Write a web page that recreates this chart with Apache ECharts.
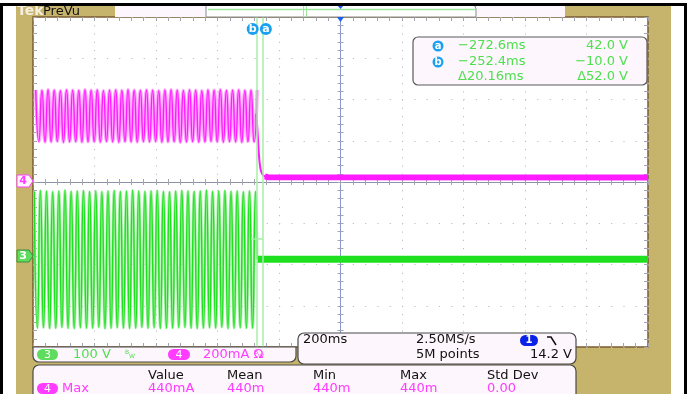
<!DOCTYPE html>
<html><head><meta charset="utf-8">
<script src="https://cdn.jsdelivr.net/npm/echarts@6/dist/echarts.min.js"></script>
<style>html,body{margin:0;padding:0;background:#fff;}#c{width:693px;height:394px;}</style>
</head><body><div id="c"></div>
<script>
// ---- scope settings / data ----
const timeMin = -1000, timeMax = 1000, timeDiv = 200;   // ms, 200 ms/div
const ch3Scale = 100;   // V/div
const ch4Scale = 200;   // mA/div
const ch3Pos = -1.8;    // div
const ch4Pos = 0;       // div
const wavePeriod = 20;  // ms (50 Hz mains)
const waveStart = -996; // ms, first visible peak
const ch3Peaks = [157,159,158,156,158,160,157,158,159,157,158,156,158,159,157,158,160,158,157,158,159,157,156,158,159,158,157,158,160,157,158,159,157,158,156,158,157];
const ch3Troughs = [-174,-173,-175,-174,-172,-174,-175,-173,-174,-174,-172,-175,-174,-173,-174,-175,-174,-172,-174,-173,-175,-174,-174,-173,-172,-174,-175,-174,-173,-174,-172,-175,-174,-173,-174,-174];
const ch3After = [[-271,-7],[1000,-7]];
const ch4Peaks = [446,444,447,445,443,446,445,444,447,445,446,443,445,446,444,447,445,444,446,445,443,446,447,445,444,446,445,443,446,445,447,444,445,446,444,445,446];
const ch4Troughs = [196,194,195,197,193,195,196,194,195,196,194,197,195,193,196,195,194,196,195,197,194,195,196,193,195,196,194,195,197,195,194,196,195,193,196,195];
const ch4Drop = [[-274,330],[-270,250],[-267,170],[-264,110],[-260,62],[-254,38],[-246,27],[-236,23],[1000,22]];
const cursorTimes = [-272.6, -252.4];   // ms
const cursorVolts = [42.0, -10.0];      // V
const readTimes = ['\u2212272.6ms', '\u2212252.4ms', '\u039420.16ms'];
const readVolts = ['42.0 V', '\u221210.0 V', '\u039452.0 V'];
const measHeads = ['Value', 'Mean', 'Min', 'Max', 'Std Dev'];
const measVals = ['440mA', '440m', '440m', '440m', '0.00'];

// ---- build series ----
const ch3 = v => ch3Pos + v / ch3Scale;
const ch4 = v => ch4Pos + v / ch4Scale;
const greenOsc = [];
ch3Peaks.forEach((p, i) => {
  greenOsc.push([waveStart + i * wavePeriod, ch3(p)]);
  if (i < ch3Troughs.length) greenOsc.push([waveStart + i * wavePeriod + wavePeriod / 2, ch3(ch3Troughs[i])]);
});
greenOsc.push([ch3After[0][0], ch3(ch3After[0][1])]);
const greenFlat = ch3After.map(d => [d[0], ch3(d[1])]);
const magOsc = [];
ch4Peaks.forEach((p, i) => {
  magOsc.push([waveStart + 5 + i * wavePeriod, ch4(p)]);
  if (i < ch4Troughs.length) magOsc.push([waveStart + 5 + i * wavePeriod + wavePeriod / 2, ch4(ch4Troughs[i])]);
});
const magDrop = ch4Drop.map(d => [d[0], ch4(d[1])]);
const magFlat = ch4Drop.slice(-3).map(d => [d[0], ch4(d[1])]);

const TAN = '#c6b46c', PALE = '#fdf6fc', GRN = '#4fe04f', MAG = '#ff3cff', FONT = '"DejaVu Sans", sans-serif';
function rect(x, y, w, h, fill, stroke, r, z, lw) {
  return {type: 'rect', z: z, shape: {x: x, y: y, width: w, height: h, r: r || 0},
    style: {fill: fill, stroke: stroke || null, lineWidth: lw || 1}, silent: true};
}
function txt(x, y, s, color, size, align, weight, z) {
  return {type: 'text', z: z || 40, x: x, y: y, silent: true,
    style: {text: s, fill: color, font: (weight || 'normal') + ' ' + size + 'px ' + FONT,
      textAlign: align || 'left', textVerticalAlign: 'middle', align: align || 'left', verticalAlign: 'middle'}};
}
function line(x1, y1, x2, y2, color, w, z) {
  return {type: 'line', z: z || 15, silent: true, shape: {x1: x1, y1: y1, x2: x2, y2: y2}, style: {stroke: color, lineWidth: w || 1}};
}
function poly(pts, fill, stroke, z) {
  return {type: 'polygon', z: z || 15, silent: true, shape: {points: pts}, style: {fill: fill, stroke: stroke, lineWidth: 1}};
}
function circ(cx, cy, r, fill, z) {
  return {type: 'circle', z: z || 35, silent: true, shape: {cx: cx, cy: cy, r: r}, style: {fill: fill}};
}

const graphics = [
  rect(0, 0, 693, 394, '#fff', null, 0, -20),
  rect(16, 6, 655, 388, TAN, null, 0, -19),
  rect(33, 17, 615, 330, '#fff', null, 0, -18),
  rect(0, 3, 687, 3, '#000', null, 0, 50),
  rect(0, 3, 3, 391, '#000', null, 0, 50),
  rect(684, 3, 3, 391, '#000', null, 0, 50),
  // top band
  rect(115, 6, 91, 11, PALE, null, 0, 5),
  rect(476, 6, 89, 11, PALE, null, 0, 5),
  rect(206, 5, 270, 12, '#fff', '#8a8a8a', [0, 4, 0, 0], 6),
  line(208, 9.5, 475, 9.5, '#9ee89e', 1.5, 7),
  line(303.5, 6, 303.5, 17, '#9ee89e', 1, 7),
  line(306.5, 6, 306.5, 17, '#9ee89e', 1, 7),
  poly([[337, 5], [344, 5], [340.5, 9]], '#1a5ff0', null, 8),
  poly([[337, 17], [344, 17], [340.5, 22]], '#1a5ff0', null, 25),
  txt(17, 11.5, 'Tek', '#f4efe0', 14, 'left', 'bold'),
  txt(43, 11.5, 'PreVu', '#111', 13),
  // channel markers
  poly([[17, 175], [29, 175], [33, 181], [29, 187], [17, 187]], '#fff4ff', '#ff40ff', 25),
  txt(23, 181.5, '4', MAG, 11, 'center', 'bold'),
  poly([[17, 250], [29, 250], [33, 256], [29, 262], [17, 262]], '#5ddc5d', '#3f8f3f', 25),
  txt(23, 256.5, '3', '#fff', 11, 'center', 'bold'),
  // cursor readout box
  rect(413, 37, 234, 48, PALE, '#5a5a5a', 5, 24, 1.2),
  circ(438, 46, 5.5, '#1aa0f0'), txt(438, 46.5, 'a', '#fff', 10, 'center', 'bold'),
  circ(438, 62, 5.5, '#1aa0f0'), txt(438, 62.5, 'b', '#fff', 10, 'center', 'bold'),
  // channel settings box
  rect(33, 347, 263, 15, PALE, '#4a4a4a', [0, 0, 6, 6], 24, 1.2),
  rect(37, 349, 21, 11, '#5ddc5d', null, 5.5, 30), txt(47.5, 355, '3', '#fff', 11, 'center'),
  txt(73, 355, '100 V', GRN, 13),
  txt(125, 352.5, 'B', GRN, 6), txt(129, 356, 'W', GRN, 6),
  rect(168, 349, 22, 11, MAG, null, 5.5, 30), txt(179, 355, '4', '#fff', 11, 'center'),
  txt(203, 355, '200mA \u03a9', MAG, 13),
  txt(254, 352.5, 'B', MAG, 6), txt(258, 356, 'W', MAG, 6),
  // horizontal / acquisition box
  rect(298, 333, 278, 31, PALE, '#4a4a4a', 6, 24, 1.2),
  txt(303, 340, '200ms', '#111', 13),
  txt(416, 340, '2.50MS/s', '#111', 13),
  txt(416, 355, '5M points', '#111', 13),
  rect(520, 335, 18, 11, '#0a22e8', null, 5.5, 30), txt(529, 340.5, '1', '#fff', 10, 'center', 'bold'),
  {type: 'polyline', z: 40, silent: true, shape: {points: [[547, 337], [551, 337], [556, 345]]}, style: {stroke: '#111', lineWidth: 1.5, fill: null}},
  txt(572, 355, '14.2 V', '#111', 13, 'right'),
  // measurement box
  rect(33, 365, 543, 40, PALE, '#4a4a4a', 6, 24, 1.2),
  rect(37, 383, 21, 11, MAG, null, 5.5, 30), txt(47.5, 389, '4', '#fff', 11, 'center'),
  txt(62, 389, 'Max', MAG, 13)
];
readTimes.forEach((s, i) => { graphics.push(txt(458, 46 + i * 15.5, s, GRN, 13)); });
readVolts.forEach((s, i) => { graphics.push(txt(628, 46 + i * 15.5, s, GRN, 13, 'right')); });
const measX = [148, 227, 313, 400, 487];
measHeads.forEach((s, i) => { graphics.push(txt(measX[i], 376, s, '#111', 13)); });
measVals.forEach((s, i) => { graphics.push(txt(measX[i], 389, s, MAG, 13)); });

const gridCol = '#bcbcc4';
const tickCol = '#a4a4ae';
function xA(extra) {
  return Object.assign({type: 'value', min: timeMin, max: timeMax, interval: timeDiv, axisLabel: {show: false},
    splitLine: {show: false}, minorSplitLine: {show: false}}, extra);
}
function yA(extra) {
  return Object.assign({type: 'value', min: -4, max: 4, interval: 1, axisLabel: {show: false},
    splitLine: {show: false}, minorSplitLine: {show: false}}, extra);
}
const option = {
  animation: false,
  backgroundColor: 'transparent',
  grid: {left: 33, top: 17, width: 615, height: 330, show: true, backgroundColor: 'transparent', borderColor: '#7a5c33', borderWidth: 1.5},
  xAxis: [
    xA({position: 'bottom', axisLine: {show: false}, axisTick: {show: false},
       splitLine: {show: true, lineStyle: {color: gridCol, width: 1, type: [1.2, 7.05]}}}),
    xA({position: 'top', axisLine: {show: false, onZero: false}, axisTick: {show: true, inside: true, length: 4, lineStyle: {color: tickCol}},
       minorTick: {show: true, splitNumber: 5, length: 4, lineStyle: {color: tickCol}}}),
    xA({position: 'bottom', axisLine: {show: false, onZero: false}, axisTick: {show: true, inside: true, length: 4, lineStyle: {color: tickCol}},
       minorTick: {show: true, splitNumber: 5, length: 4, lineStyle: {color: tickCol}}}),
    xA({position: 'bottom', offset: -165, axisLine: {show: true, onZero: false, lineStyle: {color: '#8a92a8', width: 1}},
       axisTick: {show: true, inside: true, length: 3, lineStyle: {color: tickCol}},
       minorTick: {show: true, splitNumber: 5, length: 3, lineStyle: {color: tickCol}}}),
    xA({position: 'bottom', offset: -165, axisLine: {show: false, onZero: false},
       axisTick: {show: true, inside: false, length: 3, lineStyle: {color: tickCol}},
       minorTick: {show: true, splitNumber: 5, length: 3, lineStyle: {color: tickCol}}})
  ],
  yAxis: [
    yA({position: 'left', axisLine: {show: false}, axisTick: {show: false},
       splitLine: {show: true, lineStyle: {color: gridCol, width: 1, type: [1.2, 11.1]}}}),
    yA({position: 'left', axisLine: {show: false, onZero: false}, axisTick: {show: true, inside: true, length: 4, lineStyle: {color: tickCol}},
       minorTick: {show: true, splitNumber: 5, length: 4, lineStyle: {color: tickCol}}}),
    yA({position: 'right', axisLine: {show: false, onZero: false}, axisTick: {show: true, inside: true, length: 4, lineStyle: {color: tickCol}},
       minorTick: {show: true, splitNumber: 5, length: 4, lineStyle: {color: tickCol}}}),
    yA({position: 'left', offset: -307.5, axisLine: {show: true, onZero: false, lineStyle: {color: '#8796cc', width: 1}},
       axisTick: {show: true, inside: true, length: 3, lineStyle: {color: tickCol}},
       minorTick: {show: true, splitNumber: 5, length: 3, lineStyle: {color: tickCol}}}),
    yA({position: 'left', offset: -307.5, axisLine: {show: false, onZero: false},
       axisTick: {show: true, inside: false, length: 3, lineStyle: {color: tickCol}},
       minorTick: {show: true, splitNumber: 5, length: 3, lineStyle: {color: tickCol}}})
  ],
  series: [
    {type: 'line', data: magOsc, symbol: 'none', smooth: 0.6, lineStyle: {color: '#ffa8ff', width: 3.5}, z: 2},
    {type: 'line', data: magOsc, symbol: 'none', smooth: 0.6, lineStyle: {color: '#ff1aff', width: 1.4}, z: 3},
    {type: 'line', data: magDrop, symbol: 'none', smooth: 0.3, lineStyle: {color: '#ff1aff', width: 2}, z: 3},
    {type: 'line', data: magFlat, symbol: 'none', lineStyle: {color: '#ff1aff', width: 6}, z: 3},
    {type: 'line', data: greenOsc, symbol: 'none', smooth: 0.6, lineStyle: {color: '#a6f0a6', width: 2.6}, z: 3},
    {type: 'line', data: greenOsc, symbol: 'none', smooth: 0.6, lineStyle: {color: '#1ee01e', width: 1.4}, z: 4},
    {type: 'line', data: greenFlat, symbol: 'none', lineStyle: {color: '#1ee01e', width: 7}, z: 4,
      markLine: {symbol: 'none', silent: true, label: {show: false}, animation: false,
        lineStyle: {color: '#a6eea6', width: 1.5, type: 'solid'},
        data: [{xAxis: cursorTimes[0]}, {xAxis: cursorTimes[1]},
               [{coord: [cursorTimes[0] - 18, ch3(cursorVolts[0])]}, {coord: [cursorTimes[1], ch3(cursorVolts[0])]}]]}}
  ],
  graphic: {elements: graphics}
};
const chart = echarts.init(document.getElementById('c'), null, {renderer: 'canvas'});
chart.setOption(option);
const xa = chart.convertToPixel({xAxisIndex: 0}, cursorTimes[0]);
const xb = chart.convertToPixel({xAxisIndex: 0}, cursorTimes[1]);
const extra = [
  circ(xa - 4, 29, 6, '#1aa0f0'), txt(xa - 4, 29.5, 'b', '#fff', 11, 'center', 'bold'),
  circ(xb + 3, 29, 6, '#1aa0f0'), txt(xb + 3, 29.5, 'a', '#fff', 11, 'center', 'bold')
];
chart.setOption({graphic: {elements: graphics.concat(extra)}});
</script></body></html>
